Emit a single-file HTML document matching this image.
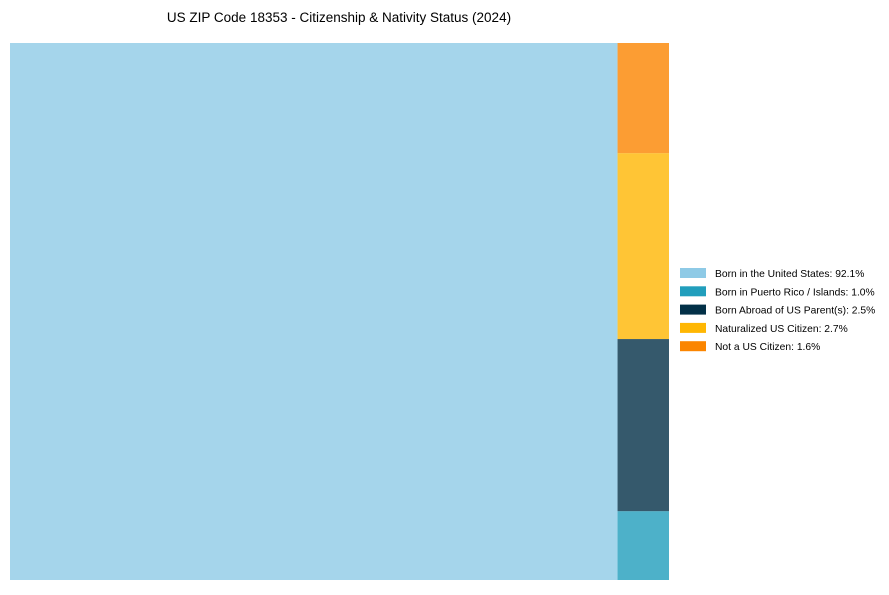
<!DOCTYPE html>
<html><head><meta charset="utf-8"><style>
body{margin:0;background:#fff;width:889px;height:590px;overflow:hidden;font-family:"Liberation Sans",Arial,sans-serif;}
</style></head><body>
<svg id="chart" width="889" height="590">
<text x="339" y="22" text-anchor="middle" font-size="13.5" fill="#000">US ZIP Code 18353 - Citizenship &amp; Nativity Status (2024)</text>
<g id="tiles"></g><g id="legend"></g>
</svg>
<script>
const categories=["Born in the United States","Born in Puerto Rico / Islands","Born Abroad of US Parent(s)","Naturalized US Citizen","Not a US Citizen"];
const values=[92.1,1.0,2.5,2.7,1.6];
const colors=["#8ecae6","#219ebc","#023047","#ffb703","#fb8500"];
const ns="http://www.w3.org/2000/svg";
const X0=10,X1=669,Y0=43,Y1=580;
const total=values.reduce((a,b)=>a+b,0);
const tiles=document.getElementById('tiles');
function rect(x,y,w,h,c,name){const r=document.createElementNS(ns,'rect');r.setAttribute('x',x);r.setAttribute('y',y);r.setAttribute('width',w);r.setAttribute('height',h);r.setAttribute('fill',c);r.setAttribute('fill-opacity',0.8);


tiles.appendChild(r);}
const bigW=(X1-X0)*values[0]/total;
rect(X0,Y0,bigW,Y1-Y0,colors[0],'tile-born-in-us');
const rest=total-values[0];let y=Y1;
for(let i=1;i<values.length;i++){const h=(Y1-Y0)*values[i]/rest;y-=h;rect(X0+bigW,y,X1-X0-bigW,h,colors[i],'tile-'+i);}
const lg=document.getElementById('legend');
categories.forEach((c,i)=>{const g=document.createElementNS(ns,'g');


const ry=268+i*18.3;
const r=document.createElementNS(ns,'rect');r.setAttribute('x',680);r.setAttribute('y',ry);r.setAttribute('width',26);r.setAttribute('height',10);r.setAttribute('fill',colors[i]);g.appendChild(r);
const t=document.createElementNS(ns,'text');t.setAttribute('x',715);t.setAttribute('y',ry+9);t.setAttribute('font-size','10.3');t.textContent=c+': '+values[i].toFixed(1)+'%';g.appendChild(t);
lg.appendChild(g);});
</script>
</body></html>
